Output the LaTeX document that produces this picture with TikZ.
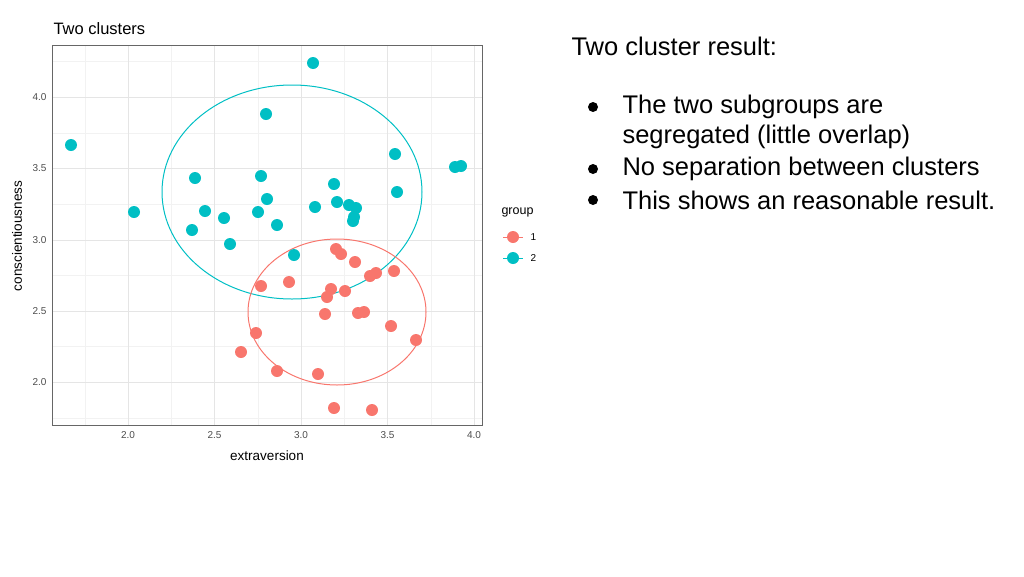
\documentclass[tikz,border=0pt]{standalone}
\usepackage{fontspec}
\setmainfont{Liberation Sans}
\definecolor{grpone}{HTML}{F8766D}
\definecolor{grptwo}{HTML}{00BFC4}
\begin{document}
\begin{tikzpicture}[
      x = 1pt, y = -1pt,
      Major/.style = {draw = black!10, line width = 0.8pt},
      Minor/.style = {draw = black!5, line width = 0.5pt},
      Tick/.style = {font = \fontsize{10}{11}\selectfont, text = black!70},
      DotA/.style = {fill = grpone},
      DotB/.style = {fill = grptwo},
      Bullet/.style = {anchor = west, font = \fontsize{25.5}{30}\selectfont}
    ]
    \useasboundingbox (0,0) rectangle (1024,576);

    % grid
    \foreach \gx in {85,171,258,344,431} \draw[Minor] (\gx,45) -- (\gx,425);
    \foreach \gy in {61,133,204,275,346,418} \draw[Minor] (52,\gy) -- (482,\gy);
    \foreach \gx/\lab in {128/2.0,214.5/2.5,301/3.0,387.5/3.5,474/4.0} {
      \draw[Major] (\gx,45) -- (\gx,425);
      \node[Tick, below] at (\gx,428) {\lab};
    }
    \foreach \gy/\lab in {97/4.0,168/3.5,240/3.0,311/2.5,382/2.0} {
      \draw[Major] (52,\gy) -- (482,\gy);
      \node[Tick, left] at (50,\gy) {\lab};
    }
    \draw[black!60, line width = 0.8pt] (52,45) rectangle (482,425);

    % ellipses
    \draw[grptwo, line width = 1pt] (292,192) ellipse [x radius = 130, y radius = 107];
    \draw[grpone, line width = 1pt] (337,312) ellipse [x radius = 89, y radius = 73];

    % points
    \foreach \px/\py in {313/63,71/145,266/114,395/154,455/167,461/166,195/178,261/176,334/184,397/192,134/212,205/211,224/218,258/212,267/199,277/225,192/230,230/244,315/207,337/202,349/205,356/208,354/217,353/221,294/255}
      \fill[DotB] (\px,\py) circle (6);
    \foreach \px/\py in {336/249,341/254,355/262,394/271,376/273,370/276,261/286,289/282,331/289,345/291,327/297,325/314,358/313,364/312,391/326,256/333,416/340,241/352,277/371,318/374,334/408,372/410}
      \fill[DotA] (\px,\py) circle (6);

    % titles
    \node[anchor = west, font = \fontsize{16.5}{19}\selectfont] (title) at (50,29) {Two clusters};
    \node[font = \fontsize{13.5}{15}\selectfont] (xlab) at (267,456) {extraversion};
    \node[rotate = 90, font = \fontsize{13.5}{15}\selectfont] (ylab) at (17,236) {conscientiousness};

    % legend
    \node[anchor = west, font = \fontsize{12.5}{14}\selectfont] (leg) at (498,212) {group};
    \draw[grpone, line width = 1pt] (503,237) -- (523,237);
    \fill[DotA] (513,237) circle (6);
    \draw[grptwo, line width = 1pt] (503,258) -- (523,258);
    \fill[DotB] (513,258) circle (6);
    \node[anchor = west, font = \fontsize{10}{11}\selectfont] (legA) at (527,237) {1};
    \node[anchor = west, font = \fontsize{10}{11}\selectfont] (legB) at (527,258) {2};

    % text
    \node[Bullet] (head) at (568,46) {Two cluster result:};
    \foreach \ty/\txt in {107/The two subgroups are,137/segregated (little overlap),169/No separation between clusters,200/This shows an reasonable result.}
      \node[Bullet] at (619,\ty) {\txt};
    \foreach \ty in {107,169,200} \fill (593,\ty) circle (5);
  \end{tikzpicture}
\end{document}
